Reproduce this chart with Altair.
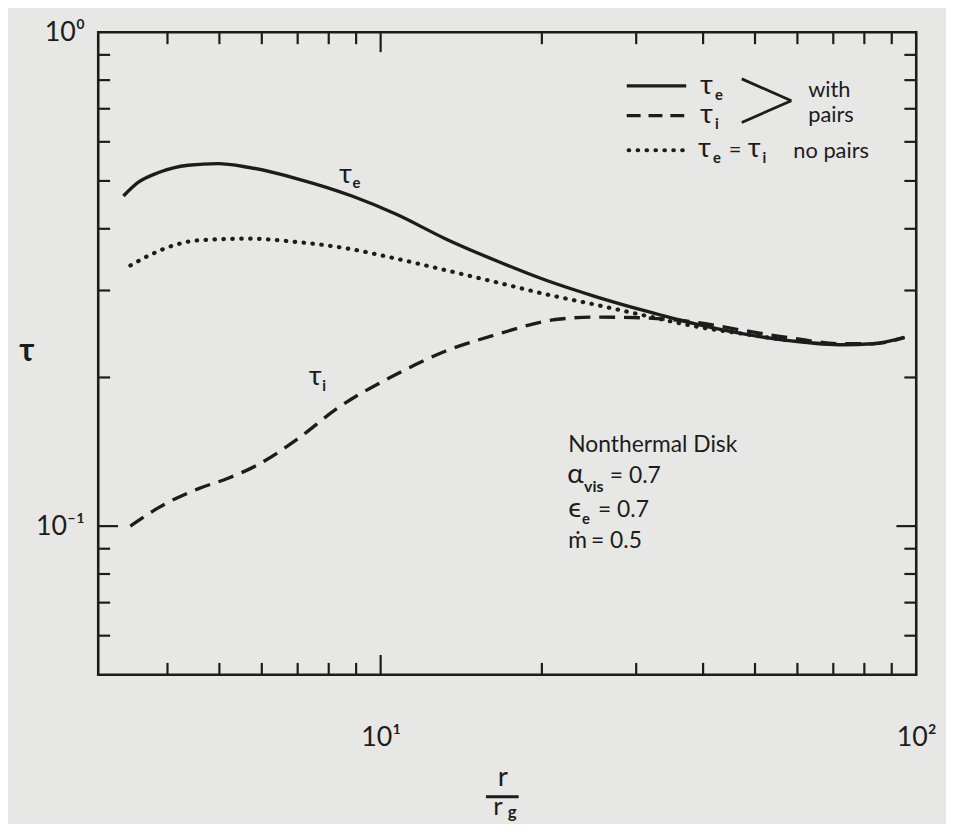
import altair as alt
import pandas as pd

# ---------------- data ----------------
te_r = [3.31, 3.53, 3.85, 4.37, 4.97, 5.65, 6.99, 8.84, 10.7, 13.2, 16.4, 20.3, 25.1, 31.1, 38.5, 47.6, 58.9, 72.9, 82.9, 95.1]
te_tau = [0.466, 0.497, 0.520, 0.538, 0.542, 0.533, 0.505, 0.466, 0.428, 0.382, 0.345, 0.315, 0.292, 0.273, 0.257, 0.245, 0.237, 0.233, 0.234, 0.241]

ti_r = [3.41, 3.85, 4.56, 5.19, 5.89, 6.99, 8.29, 10.7, 13.2, 16.4, 21.2, 25.1, 31.1, 38.5, 47.6, 58.9, 72.9, 82.9, 95.1]
ti_tau = [0.100, 0.109, 0.119, 0.125, 0.133, 0.150, 0.173, 0.203, 0.226, 0.244, 0.262, 0.265, 0.264, 0.259, 0.249, 0.240, 0.234, 0.234, 0.241]

np_r = [3.41, 3.69, 4.10, 4.56, 5.65, 6.99, 8.65, 10.7, 13.2, 16.4, 20.3, 25.1, 31.1, 38.5, 47.6, 58.9]
np_tau = [0.337, 0.353, 0.370, 0.379, 0.382, 0.376, 0.365, 0.348, 0.330, 0.312, 0.295, 0.281, 0.267, 0.254, 0.245, 0.237]

x_minor = [4, 5, 6, 7, 8, 9, 20, 30, 40, 50, 60, 70, 80, 90]
x_major = [10]
y_minor = [0.06, 0.07, 0.08, 0.09, 0.2, 0.3, 0.4, 0.5, 0.6, 0.7, 0.8, 0.9]
y_major = [0.1]
x_label_values = [10, 100]
x_label_texts = ["10¹", "10²"]
y_label_values = [0.1, 1]
y_label_texts = ["10⁻¹", "10⁰"]

# ---------------- layout ----------------
W, H = 825, 648
OX, OY = 99, 29          # plot-area origin on the page
INK = "#1c1c1c"
BG = "#e7e7e5"
FONT = "Lato"
MINOR, MAJOR = 12, 20

xs = alt.Scale(type="log", domain=[2.97, 100], nice=False)
ys = alt.Scale(type="log", domain=[0.05, 1], nice=False)

one = pd.DataFrame({"k": [0]})


def txt(s, x, y, size=23, align="left", baseline="alphabetic", **kw):
    return alt.Chart(one).mark_text(
        text=s, align=align, baseline=baseline, fontSize=size, font=FONT, color=INK, **kw
    ).encode(x=alt.value(x - OX), y=alt.value(y - OY))


def seg(x1, y1, x2, y2, width=3.0, dash=None, cap="butt"):
    kw = dict(color=INK, strokeWidth=width, strokeCap=cap)
    if dash:
        kw["strokeDash"] = dash
    return alt.Chart(one).mark_rule(**kw).encode(
        x=alt.value(x1 - OX), y=alt.value(y1 - OY), x2=alt.value(x2 - OX), y2=alt.value(y2 - OY)
    )


label_map_x = " : ".join(f"datum.value == {v} ? '{t}'" for v, t in zip(x_label_values, x_label_texts)) + " : ''"
label_map_y = " : ".join(f"datum.value == {v} ? '{t}'" for v, t in zip(y_label_values, y_label_texts)) + " : ''"

x_axis = alt.Axis(values=x_label_values, labelExpr=label_map_x, domain=False, ticks=False, grid=False,
                  title=None, labelFontSize=27, labelFont=FONT, labelColor=INK, labelPadding=50,
                  labelFlush=False, labelOverlap=False)
y_axis = alt.Axis(values=y_label_values, labelExpr=label_map_y, domain=False, ticks=False, grid=False,
                  title=None, labelFontSize=27, labelFont=FONT, labelColor=INK, labelPadding=14,
                  labelFlush=False, labelOverlap=False)

te_df = pd.DataFrame({"r": te_r, "tau": te_tau})
ti_df = pd.DataFrame({"r": ti_r, "tau": ti_tau})
np_df = pd.DataFrame({"r": np_r, "tau": np_tau})

solid = alt.Chart(te_df).mark_line(color=INK, strokeWidth=3.4, interpolate="monotone").encode(
    x=alt.X("r:Q", scale=xs, axis=x_axis), y=alt.Y("tau:Q", scale=ys, axis=y_axis))
dashed = alt.Chart(ti_df).mark_line(color=INK, strokeWidth=3.4, strokeDash=[16, 9], interpolate="monotone").encode(
    x=alt.X("r:Q", scale=xs), y=alt.Y("tau:Q", scale=ys))
dotted = alt.Chart(np_df).mark_line(color=INK, strokeWidth=4.2, strokeDash=[0.5, 8.5], strokeCap="round",
                                    interpolate="monotone").encode(
    x=alt.X("r:Q", scale=xs), y=alt.Y("tau:Q", scale=ys))


# inward ticks on all four sides
def xticks(vals, length):
    d = pd.DataFrame({"v": vals})
    b = alt.Chart(d).mark_rule(color=INK, strokeWidth=2.2).encode(
        x=alt.X("v:Q", scale=xs), y=alt.value(H), y2=alt.value(H - length))
    t = alt.Chart(d).mark_rule(color=INK, strokeWidth=2.2).encode(
        x=alt.X("v:Q", scale=xs), y=alt.value(0), y2=alt.value(length))
    return [b, t]


def yticks(vals, length):
    d = pd.DataFrame({"v": vals})
    l = alt.Chart(d).mark_rule(color=INK, strokeWidth=2.2).encode(
        y=alt.Y("v:Q", scale=ys), x=alt.value(0), x2=alt.value(length))
    r = alt.Chart(d).mark_rule(color=INK, strokeWidth=2.2).encode(
        y=alt.Y("v:Q", scale=ys), x=alt.value(W), x2=alt.value(W - length))
    return [l, r]


ticks = xticks(x_minor, MINOR) + xticks(x_major, MAJOR) + yticks(y_minor, MINOR) + yticks(y_major, MAJOR)

# curve labels placed at data coordinates
lab_df = pd.DataFrame({"r": [8.6, 7.55], "tau": [0.515, 0.200], "sym": ["τ", "τ"], "sub": ["e", "i"]})
lab_main = alt.Chart(lab_df).mark_text(fontSize=28, font=FONT, color=INK, align="center", baseline="middle").encode(
    x=alt.X("r:Q", scale=xs), y=alt.Y("tau:Q", scale=ys), text="sym:N")
lab_sub = alt.Chart(lab_df).mark_text(fontSize=15, font=FONT, color=INK, align="left", baseline="middle",
                                      dx=7, dy=9, fontWeight="bold").encode(
    x=alt.X("r:Q", scale=xs), y=alt.Y("tau:Q", scale=ys), text="sub:N")

# legend (drawn by hand, as in the figure)
legend = [
    seg(632, 83, 692, 83, width=3.4),
    seg(632, 113, 692, 113, width=3.4, dash=[14, 8]),
    seg(634, 148, 692, 148, width=4.2, dash=[0.5, 8.5], cap="round"),
    txt("τ", 706, 91, size=28),
    txt("e", 721, 97, size=15, fontWeight="bold"),
    txt("τ", 706, 121, size=28),
    txt("i", 721, 127, size=15, fontWeight="bold"),
    seg(748, 76, 798, 98, width=2.8),
    seg(798, 98, 748, 120, width=2.8),
    txt("with", 815, 94, size=22),
    txt("pairs", 815, 119, size=22),
    txt("τ", 704, 155, size=28),
    txt("e", 719, 161, size=15, fontWeight="bold"),
    txt("=", 735, 155, size=22),
    txt("τ", 754, 155, size=28),
    txt("i", 769, 161, size=15, fontWeight="bold"),
    txt("no pairs", 800, 156, size=22),
]

# parameter box
box = [
    txt("Nonthermal Disk", 573, 452),
    txt("α", 572, 484, size=28),
    txt("vis", 589, 493, size=16, fontWeight="bold"),
    txt("= 0.7", 615, 484),
    txt("ϵ", 573, 518, size=28),
    txt("e", 587, 525, size=15, fontWeight="bold"),
    txt("= 0.7", 603, 518),
    txt("ṁ", 573, 549),
    txt("= 0.5", 596, 549),
]

# axis titles
titles = [
    txt("τ", 27, 351, size=32, align="center", baseline="middle", fontWeight="bold"),
    txt("r", 507, 789, size=28, align="center"),
    seg(490, 800, 523, 800, width=3),
    txt("r", 502, 818, size=26, align="center"),
    txt("g", 512, 821, size=17, align="left", fontWeight="bold"),
]

chart = alt.layer(dotted, dashed, solid, *ticks, lab_main, lab_sub, *legend, *box, *titles).properties(
    width=W, height=H,
    padding={"left": OX - 8, "top": OY - 8, "right": 946 - (OX - 8) - W, "bottom": 816 - (OY - 8) - H},
    autosize=alt.AutoSizeParams(type="none"),
    background=BG,
).configure_view(stroke=INK, strokeWidth=2.6)

chart.save("out.html", embed_options={"renderer": "svg", "actions": False})
